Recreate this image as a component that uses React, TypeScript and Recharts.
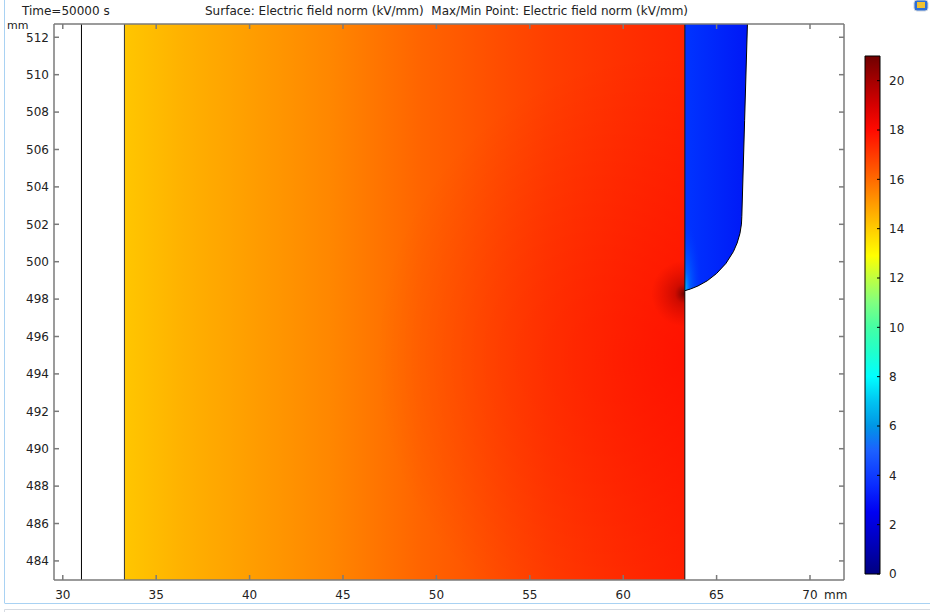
import { Area, Bar, BarChart, ComposedChart, Line, ReferenceArea, ReferenceLine, XAxis, YAxis } from "recharts";

// axes (mm)
const xDomain = [29.53, 71.82];
const yDomain = [482.98, 512.71];
const xTicks = [30, 35, 40, 45, 50, 55, 60, 65, 70];
const yTicks = [484, 486, 488, 490, 492, 494, 496, 498, 500, 502, 504, 506, 508, 510, 512];

// geometry (mm)
const outerLineX = 31;
const slabLeft = 33.3;
const slabRight = 63.3;
// blue electrode: lower/right boundary (rounded corner, then slanted edge up to the top)
const electrodeX = [63.3, 63.6, 64.0, 64.5, 65.0, 65.5, 65.9, 66.1, 66.25, 66.33, 66.35, 66.5, 66.65];
const electrodeLow = [498.45, 498.54, 498.7, 498.98, 499.37, 499.91, 500.54, 501.0, 501.51, 502.01, 502.41, 507.56, 512.71];
const electrodeTop = 512.71;

// colour bar (kV/mm)
const fieldMax = 21;
const fieldTicks = [0, 2, 4, 6, 8, 10, 12, 14, 16, 18, 20];
const rainbow: [number, string][] = [
  [0, "#000080"],
  [1, "#0000b0"],
  [2.5, "#0000f2"],
  [3.6, "#0a2cff"],
  [5, "#1c60ff"],
  [6, "#0096e6"],
  [7, "#00c4f2"],
  [8, "#00ffff"],
  [9, "#20ffcc"],
  [10, "#44ffa4"],
  [11, "#80ff80"],
  [12, "#c0ff40"],
  [12.9, "#ffff00"],
  [14, "#ffcc00"],
  [15, "#ff9c00"],
  [16, "#ff6a00"],
  [17, "#ff3a00"],
  [18, "#ff0a00"],
  [19, "#d60000"],
  [20, "#a40000"],
  [21, "#700000"],
];
const slabStops: [number, string][] = [
  [0, "#ffc600"],
  [0.1, "#ffb200"],
  [0.37, "#ff8600"],
  [0.53, "#ff6400"],
  [0.76, "#ff3e00"],
  [0.94, "#ff2a00"],
  [1, "#ff2400"],
];

const electrodeData = electrodeX.map((x, i) => ({ x, range: [electrodeLow[i], electrodeTop] }));
const edgeData = electrodeX.map((x, i) => ({ x, y: electrodeLow[i] }));
const barData = [{ name: "E", value: fieldMax }];

const tickFont = { fontSize: 12, fill: "#222", fontFamily: "DejaVu Sans" };
const axisStroke = "#7a7a7a";
const blank = () => "";

function FieldPlot() {
  return (
    <ComposedChart width={930} height={612} margin={{ top: 23, right: 85, bottom: 0, left: 0 }}>
      <defs>
        <linearGradient id="slab" x1="0" y1="0" x2="1" y2="0">
          {slabStops.map(([o, c]) => (
            <stop key={o} offset={o} stopColor={c} />
          ))}
        </linearGradient>
        <radialGradient id="glow" cx="1" cy="0.6" r="0.55">
          <stop offset="0" stopColor="#ff0000" stopOpacity={0.5} />
          <stop offset="0.5" stopColor="#ff0000" stopOpacity={0.24} />
          <stop offset="1" stopColor="#ff0000" stopOpacity={0} />
        </radialGradient>
        <radialGradient id="spot" cx="1" cy="0.485" r="0.06">
          <stop offset="0" stopColor="#600000" stopOpacity={0.95} />
          <stop offset="0.3" stopColor="#a00000" stopOpacity={0.5} />
          <stop offset="1" stopColor="#c00000" stopOpacity={0} />
        </radialGradient>
        <linearGradient id="blueFill" x1="0" y1="0" x2="1" y2="0">
          <stop offset="0" stopColor="#0034ff" />
          <stop offset="1" stopColor="#0018f6" />
        </linearGradient>
        <radialGradient id="blueTip" cx="0" cy="1" r="0.26">
          <stop offset="0" stopColor="#00c0ff" stopOpacity={1} />
          <stop offset="0.3" stopColor="#0080ff" stopOpacity={0.6} />
          <stop offset="1" stopColor="#0040ff" stopOpacity={0} />
        </radialGradient>
      </defs>
      <XAxis
        type="number"
        dataKey="x"
        domain={xDomain}
        ticks={xTicks}
        allowDataOverflow
        interval={0}
        height={32}
        tick={tickFont}
        tickSize={-5}
        tickMargin={15}
        stroke={axisStroke}
        strokeWidth={1.5}
      />
      <XAxis
        xAxisId="top"
        orientation="top"
        type="number"
        dataKey="x"
        domain={xDomain}
        ticks={xTicks}
        allowDataOverflow
        interval={0}
        height={1}
        tickFormatter={blank}
        tickSize={-5}
        stroke={axisStroke}
        strokeWidth={1.5}
      />
      <YAxis
        type="number"
        domain={yDomain}
        ticks={yTicks}
        allowDataOverflow
        interval={0}
        width={54}
        tick={tickFont}
        tickSize={-5}
        tickMargin={10}
        stroke={axisStroke}
        strokeWidth={1.5}
      />
      <YAxis
        yAxisId="right"
        orientation="right"
        type="number"
        domain={yDomain}
        ticks={yTicks}
        allowDataOverflow
        interval={0}
        width={1}
        tickFormatter={blank}
        tickSize={-5}
        stroke={axisStroke}
        strokeWidth={1.5}
      />
      <ReferenceArea x1={slabLeft} x2={slabRight} y1={yDomain[0]} y2={yDomain[1]} fill="url(#slab)" fillOpacity={1} stroke="none" />
      <ReferenceArea x1={slabLeft} x2={slabRight} y1={yDomain[0]} y2={yDomain[1]} fill="url(#glow)" fillOpacity={1} stroke="none" />
      <ReferenceArea x1={slabLeft} x2={slabRight} y1={yDomain[0]} y2={yDomain[1]} fill="url(#spot)" fillOpacity={1} stroke="none" />
      <Area data={electrodeData} dataKey="range" type="linear" fill="url(#blueFill)" fillOpacity={1} stroke="none" isAnimationActive={false} />
      <Area data={electrodeData} dataKey="range" type="linear" fill="url(#blueTip)" fillOpacity={1} stroke="none" isAnimationActive={false} />
      <ReferenceLine x={outerLineX} stroke="#000" strokeWidth={1} />
      <ReferenceLine x={slabLeft} stroke="#333" strokeWidth={1} />
      <ReferenceLine x={slabRight} stroke="#111" strokeWidth={1} />
      <Line data={edgeData} dataKey="y" type="linear" stroke="#000" strokeWidth={1} dot={false} isAnimationActive={false} />
    </ComposedChart>
  );
}

function ColorBar() {
  return (
    <BarChart width={70} height={530} data={barData} margin={{ top: 6, right: 0, bottom: 6, left: 0 }} barCategoryGap={0}>
      <defs>
        <linearGradient id="rainbow" x1="0" y1="1" x2="0" y2="0">
          {rainbow.map(([v, c]) => (
            <stop key={v} offset={v / fieldMax} stopColor={c} />
          ))}
        </linearGradient>
      </defs>
      <XAxis dataKey="name" hide />
      <YAxis
        yAxisId="l"
        domain={[0, fieldMax]}
        ticks={fieldTicks}
        interval={0}
        width={5}
        axisLine={false}
        tickFormatter={blank}
        tickSize={-3}
        stroke="#000"
      />
      <YAxis
        orientation="right"
        domain={[0, fieldMax]}
        ticks={fieldTicks}
        interval={0}
        width={50}
        axisLine={false}
        tick={tickFont}
        tickSize={-3}
        tickMargin={12}
        stroke="#000"
      />
      <Bar dataKey="value" fill="url(#rainbow)" stroke="#000" strokeWidth={1} isAnimationActive={false} />
    </BarChart>
  );
}

export default function App() {
  return (
    <div style={{ position: "fixed", left: 0, top: 0, width: 930, height: 612, background: "#fff", fontFamily: "DejaVu Sans" }}>
      <FieldPlot />
      <div style={{ position: "absolute", left: 860, top: 50 }}>
        <ColorBar />
      </div>
      <svg width={930} height={612} style={{ position: "absolute", left: 0, top: 0, pointerEvents: "none" }}>
        <g fontFamily="DejaVu Sans" fill="#222">
          <text x={22} y={15} fontSize={12}>Time=50000 s</text>
          <text x={205} y={15} fontSize={12} style={{ whiteSpace: "pre" }}>
            Surface: Electric field norm (kV/mm)  Max/Min Point: Electric field norm (kV/mm)
          </text>
          <text x={7} y={29} fontSize={11}>mm</text>
          <text x={824} y={599} fontSize={12}>mm</text>
        </g>
        <line x1={4.5} y1={0} x2={4.5} y2={603} stroke="#a9d2f3" />
        <line x1={4.5} y1={603.5} x2={930} y2={603.5} stroke="#a9d2f3" />
        <line x1={4.5} y1={609.5} x2={930} y2={609.5} stroke="#d6dbe2" />
        <line x1={4.5} y1={609.5} x2={4.5} y2={612} stroke="#d6dbe2" />
        <rect x={914} y={0} width={14} height={11} rx={3} fill="#2f6fd6" stroke="#cfd6de" />
        <rect x={917} y={2} width={8} height={6} fill="#f2c230" />
      </svg>
    </div>
  );
}
